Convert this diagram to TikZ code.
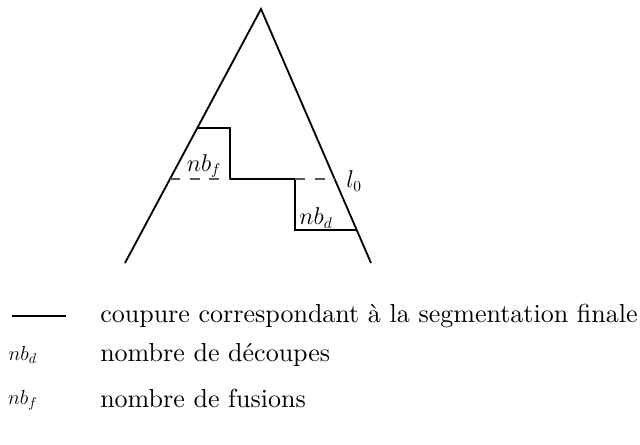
\documentclass[tikz,border=0pt]{standalone}
\usepackage{amsmath,amssymb}
\usepackage{tikz}
\usetikzlibrary{positioning,calc}
\newcommand{\bigtxt}[2]{\scalebox{#1}{#2}}

\begin{document}
\begin{tikzpicture}[font=\fontsize{16}{19}\selectfont,
  cut/.style={line width=1.3pt},
  level/.style={gray!70!black,line width=0.8pt,dash pattern=on 7pt off 7pt},
  legtext/.style={anchor=west,inner sep=0pt,font=\normalsize},
  legkey/.style={font=\fontsize{14.5}{17}\selectfont}]
\useasboundingbox (0,0) rectangle (16,11.125);
% Tree
\coordinate (apex) at (6.525,10.9);
\coordinate (bl) at (3.125,4.55);
\coordinate (br) at (9.275,4.55);
\draw[cut] (bl) -- (apex) -- (br);
% Final cut
\coordinate (s0) at (4.925,7.925);
\coordinate (s1) at (5.75,7.925);
\coordinate (s2) at (5.75,6.65);
\coordinate (s3) at (7.375,6.65);
\coordinate (s4) at (7.375,5.375);
\coordinate (s5) at (8.92,5.375);
\draw[cut] (s0) -- (s1) -- (s2) -- (s3) -- (s4) -- (s5);
% Level l0
\coordinate (d0) at (4.25,6.65);
\coordinate (d1) at (8.375,6.65);
\draw[level] (d0) -- (s2);
\draw[level] (s3) -- (d1);
\node (l0) at (8.85,6.6) {$l_0$};
\node (nbf) at (5.1,6.975) {$nb_f$};
\node (nbd) at (7.9,5.675) {$nb_d$};
% Legend
\coordinate (la) at (0.3,3.225);
\coordinate (lb) at (1.65,3.225);
\draw[cut] (la) -- (lb);
\node[legtext] (t1) at (2.5,3.225) {\bigtxt{1.85}{coupure correspondant \`a la segmentation finale}};
\node[legkey] (k2) at (0.57,2.25) {$nb_d$};
\node[legtext] (t2) at (2.5,2.25) {\bigtxt{1.85}{nombre de d\'ecoupes}};
\node[legkey] (k3) at (0.57,1.12) {$nb_f$};
\node[legtext] (t3) at (2.5,1.175) {\bigtxt{1.85}{nombre de fusions}};
\end{tikzpicture}
\end{document}
